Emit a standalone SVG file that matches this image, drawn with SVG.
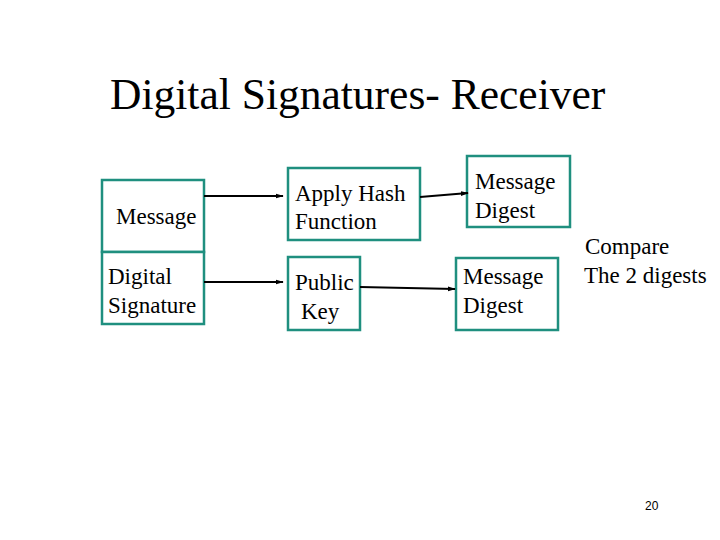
<svg xmlns="http://www.w3.org/2000/svg" width="720" height="540" viewBox="0 0 720 540">
<style>
.b{fill:#fff;stroke:#1f8f7f;stroke-width:2.5}
.t{font-family:"Liberation Serif",serif;font-size:23px;fill:#000}
.c{stroke:#000;stroke-width:2;fill:none;marker-end:url(#a)}
</style>
<defs><marker id="a" viewBox="0 0 10 10" refX="9" refY="5" markerWidth="4" markerHeight="4" orient="auto"><path d="M0,2L10,5L0,8z" fill="#000"/></marker></defs>
<rect width="720" height="540" fill="#fff"/>
<text x="110" y="109" font-family="Liberation Serif,serif" font-size="43.5">Digital Signatures- Receiver</text>
<g id="msg"><rect class="b" x="102" y="180" width="102" height="72"/><text class="t" x="116" y="224">Message</text></g>
<g id="sig"><rect class="b" x="102" y="252" width="102" height="72"/><text class="t" x="108" y="284">Digital</text><text class="t" x="108" y="313">Signature</text></g>
<g id="hash"><rect class="b" x="288" y="168" width="132" height="72"/><text class="t" x="295" y="201">Apply Hash</text><text class="t" x="295" y="229">Function</text></g>
<g id="key"><rect class="b" x="288" y="257" width="72" height="73"/><text class="t" x="295" y="290">Public</text><text class="t" x="301" y="319">Key</text></g>
<g id="d1"><rect class="b" x="467" y="156" width="103" height="71"/><text class="t" x="475" y="189">Message</text><text class="t" x="475" y="218">Digest</text></g>
<g id="d2"><rect class="b" x="456" y="258" width="102" height="72"/><text class="t" x="463" y="284">Message</text><text class="t" x="463" y="313">Digest</text></g>
<g id="cmp"><text class="t" x="585" y="254">Compare</text><text class="t" x="584" y="283">The 2 digests</text></g>
<text x="645" y="510" font-family="Liberation Sans,sans-serif" font-size="12">20</text>
<g id="connectors">
<path class="c" d="M204,196H283"/>
<path class="c" d="M204,282H283"/>
<path class="c" d="M420,197L468,193"/>
<path class="c" d="M360,287L455,289"/>
</g>
</svg>
